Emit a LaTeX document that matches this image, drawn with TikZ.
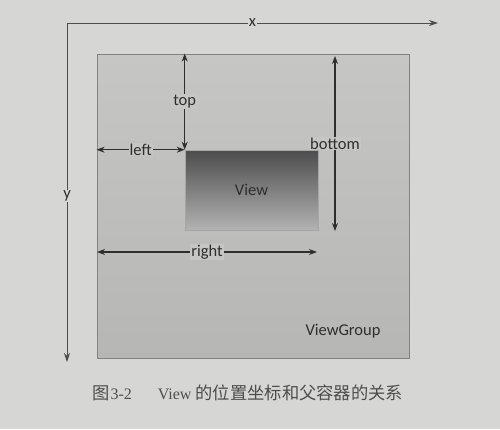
\documentclass[tikz,border=0pt]{standalone}
\usepackage{fontspec}
\setmainfont{Liberation Serif}
\newfontfamily\lblfont{Carlito}
\newfontfamily\cjkfont{Noto Sans CJK SC}
\usetikzlibrary{arrows.meta}
\definecolor{paper}{HTML}{D6D6D4}
\definecolor{vgfill}{HTML}{C6C6C5}
\definecolor{ink}{HTML}{2E2E2E}
\tikzset{
  dim/.style={draw=ink, line width=1.1pt, {Stealth[length=8pt,width=6pt]}-{Stealth[length=8pt,width=6pt]}},
  axis/.style={draw=ink!85, line width=1pt, -{Stealth[length=9pt,width=6pt]}},
  lbl/.style={font=\lblfont\fontsize{16.5}{17}\selectfont, text=ink, inner sep=1pt, fill=vgfill},
}
\begin{document}
\begin{tikzpicture}[x=1pt,y=-1pt]
\fill[paper] (0,0) rectangle (500,429);
\useasboundingbox (0,0) rectangle (500,429);
% ViewGroup
\node[draw=ink!60, line width=0.8pt, top color=vgfill, bottom color=vgfill!92!black, minimum width=312pt, minimum height=304pt, inner sep=0pt] (vg) at (253,206) {};
% View
\node[draw=gray!70, line width=0.6pt, top color=black!70, bottom color=black!30, minimum width=133pt, minimum height=80pt, inner sep=0pt, font=\lblfont\fontsize{16.5}{17}\selectfont, text=ink] (view) at (251.5,190) {View};
\node[font=\lblfont\fontsize{16.5}{17}\selectfont, text=ink, anchor=center] (vgl) at (343,331) {ViewGroup};
% axes
\coordinate (o) at (67,23);
\coordinate (xe) at (438,23);
\coordinate (ye) at (67,362);
\draw[axis] (o) -- node[pos=0.5, lbl, fill=paper] {x} (xe);
\draw[axis] (o) -- node[pos=0.51, lbl, fill=paper] {y} (ye);
% dimension arrows
\coordinate (tb) at (view.north west |- vg.north);
\draw[dim] (tb) -- node[lbl, pos=0.5] {top} (view.north west);
\coordinate (lb) at (vg.west |- view.north west);
\draw[dim] (lb) -- node[lbl, pos=0.5] {left} (view.north west);
\coordinate (bt) at (335,56);
\coordinate (bb) at (335,231);
\draw[dim] (bt) -- node[lbl, pos=0.5] {bottom} (bb);
\coordinate (rl) at (97,252);
\coordinate (rr) at (317,252);
\draw[dim] (rl) -- node[lbl, pos=0.5] {right} (rr);
% caption
\node[font=\fontsize{16}{17}\selectfont, text=ink!85, anchor=west, inner sep=0pt] (cap) at (92,393) {{\cjkfont\fontsize{17.3}{18}\selectfont 图}\hspace{1pt}3-2\hspace{26pt}View\hspace{4pt}{\cjkfont\fontsize{17.3}{18}\selectfont 的位置坐标和父容器的关系}};
\end{tikzpicture}
\end{document}
